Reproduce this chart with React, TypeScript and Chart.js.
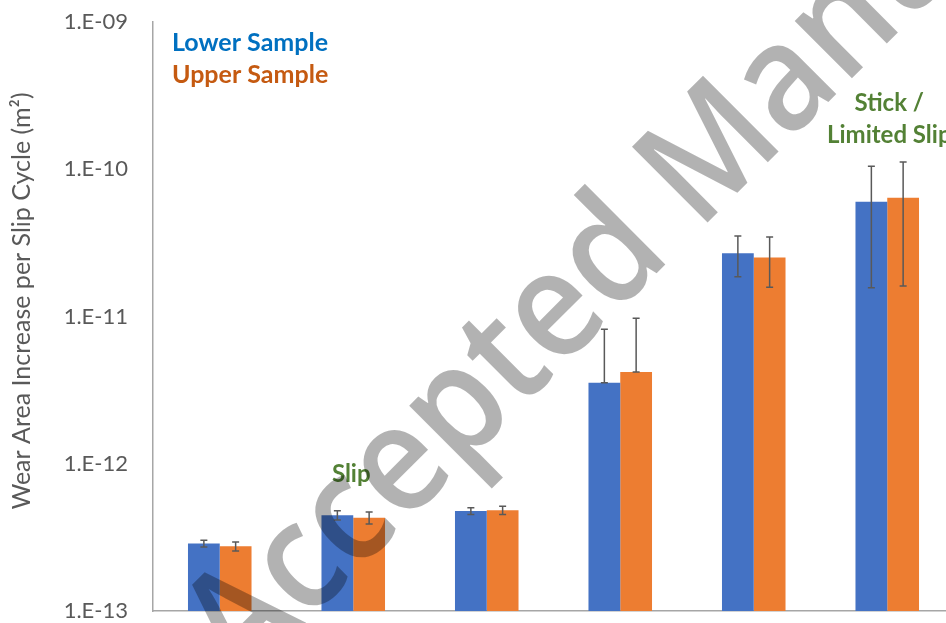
import React, { useEffect, useRef } from "react";
import { Chart, registerables } from "chart.js";

Chart.register(...registerables);

// Test conditions along the x axis (labels are not shown on this axis)
const categories = ["C1", "C2", "C3", "C4", "C5", "C6"];

// Mean wear area increase per slip cycle (m²)
const lowerSample = [2.87e-13, 4.47e-13, 4.78e-13, 3.55e-12, 2.69e-11, 6.02e-11];
const upperSample = [2.75e-13, 4.3e-13, 4.83e-13, 4.2e-12, 2.52e-11, 6.41e-11];

// Standard deviations used for the error bars (m²)
const lowerSd = [0.15e-13, 0.32e-13, 0.25e-13, 4.64e-12, 0.83e-11, 4.45e-11];
const upperSd = [0.19e-13, 0.4e-13, 0.31e-13, 5.52e-12, 0.94e-11, 4.8e-11];

// Decades shown on the logarithmic value axis
const yTickExponents = [-13, -12, -11, -10, -9];

const yTitle = "Wear Area Increase per Slip Cycle (m²)";
const slipText = ["Slip"];
const stickText = ["Stick /", "Limited Slip"];
const watermarkText = "Accepted Manuscript";

const BLUE = "#4472C4";
const ORANGE = "#ED7D31";
const AXIS_GREY = "#A6A6A6";
const TEXT_GREY = "#595959";
const GREEN = "#538135";
const legendColors = ["#0070C0", "#C55A11"];

const CANVAS_W = 960;
const CANVAS_H = 623;

const formatExp = (v: number) => {
  const e = Math.round(Math.log10(v));
  const abs = Math.abs(e);
  return "1.E" + (e < 0 ? "-" : "+") + (abs < 10 ? "0" + abs : String(abs));
};

const errorBarPlugin = {
  id: "errorBars",
  afterDatasetsDraw(chart: any) {
    const { ctx } = chart;
    const y = chart.scales.y;
    const sds = [lowerSd, upperSd];
    ctx.save();
    ctx.strokeStyle = TEXT_GREY;
    ctx.lineWidth = 1.5;
    chart.data.datasets.forEach((ds: any, di: number) => {
      const meta = chart.getDatasetMeta(di);
      meta.data.forEach((bar: any, i: number) => {
        const v = ds.data[i] as number;
        const sd = sds[di][i];
        const yTop = y.getPixelForValue(v + sd);
        const yLow = v - sd > 0 ? y.getPixelForValue(v - sd) : y.getPixelForValue(v);
        const x = bar.x;
        const cap = 3.5;
        ctx.beginPath();
        ctx.moveTo(x, yTop);
        ctx.lineTo(x, yLow);
        ctx.moveTo(x - cap, yTop);
        ctx.lineTo(x + cap, yTop);
        ctx.moveTo(x - cap, yLow);
        ctx.lineTo(x + cap, yLow);
        ctx.stroke();
      });
    });
    ctx.restore();
  },
};

const textPlugin = {
  id: "chartTexts",
  afterDraw(chart: any) {
    const { ctx } = chart;
    const x = chart.scales.x;

    ctx.save();

    // Axis title
    ctx.save();
    ctx.translate(22, 301);
    ctx.rotate(-Math.PI / 2);
    ctx.font = "25px Lato";
    ctx.fillStyle = TEXT_GREY;
    ctx.textAlign = "center";
    ctx.textBaseline = "middle";
    ctx.fillText(yTitle, 0, 0);
    ctx.restore();

    // Series names
    ctx.font = "bold 25px Lato";
    ctx.textAlign = "left";
    ctx.textBaseline = "middle";
    chart.data.datasets.forEach((ds: any, i: number) => {
      ctx.fillStyle = legendColors[i];
      ctx.fillText(ds.label, 172, 43 + i * 32);
    });

    // Regime annotations
    ctx.font = "bold 24px Lato";
    ctx.fillStyle = GREEN;
    ctx.textAlign = "center";
    const slipX = x.getPixelForValue(1) - 2;
    slipText.forEach((t, i) => ctx.fillText(t, slipX, 474 + i * 32));
    const stickX = x.getPixelForValue(5) + 2;
    stickText.forEach((t, i) => ctx.fillText(t, stickX, 103 + i * 32));

    // Watermark across the plot, drawn on its own layer and laid over translucently.
    // Placed so the middle of the second "c" sits at (350, 522) and the foot of
    // the "M" at (707, 223).
    const layer = document.createElement("canvas");
    layer.width = chart.width;
    layer.height = chart.height;
    const lc = layer.getContext("2d") as CanvasRenderingContext2D;
    const size = 150;
    lc.font = `600 ${size}px 'Open Sans'`;
    lc.textAlign = "left";
    lc.textBaseline = "alphabetic";
    const wAc = lc.measureText("Ac").width;
    const wc = lc.measureText("c").width;
    const wLead = lc.measureText("Accepted ").width;
    const mBearing = 0.088 * size;
    const lift = 0.27 * size;
    const c2 = { x: 350, y: 522 };
    const mFoot = { x: 707, y: 223 };
    let ang = Math.PI / 4;
    let sx = 1;
    for (let k = 0; k < 4; k++) {
      const bx = c2.x + lift * Math.sin(ang);
      const by = c2.y + lift * Math.cos(ang);
      const dx = mFoot.x - bx;
      const dy = by - mFoot.y;
      ang = Math.atan2(dy, dx);
      sx = Math.hypot(dx, dy) / (wLead - wAc - wc / 2 + mBearing);
    }
    const ux = Math.cos(ang);
    const uy = -Math.sin(ang);
    const upx = -Math.sin(ang);
    const upy = -Math.cos(ang);
    const along = (wAc + wc / 2) * sx;
    const ox = c2.x - along * ux - lift * upx;
    const oy = c2.y - along * uy - lift * upy;
    lc.translate(ox, oy);
    lc.rotate(-ang);
    lc.scale(sx, 1);
    lc.fillStyle = "#000";
    lc.fillText(watermarkText, 0, 0);
    ctx.globalAlpha = 0.3;
    ctx.drawImage(layer, 0, 0);

    ctx.restore();
  },
};

export default function App() {
  const canvasRef = useRef<HTMLCanvasElement | null>(null);

  useEffect(() => {
    const canvas = canvasRef.current;
    if (!canvas) return;
    const chart = new Chart(canvas, {
      type: "bar",
      data: {
        labels: categories,
        datasets: [
          {
            label: "Lower Sample",
            data: lowerSample,
            backgroundColor: BLUE,
            barPercentage: 1,
            categoryPercentage: 0.476,
          },
          {
            label: "Upper Sample",
            data: upperSample,
            backgroundColor: ORANGE,
            barPercentage: 1,
            categoryPercentage: 0.476,
          },
        ],
      },
      options: {
        animation: false,
        responsive: false,
        devicePixelRatio: 1,
        layout: { padding: { top: 22, right: CANVAS_W - 954, left: 0, bottom: 0 } },
        plugins: {
          legend: { display: false },
          tooltip: { enabled: false },
          title: { display: false },
        },
        scales: {
          x: {
            type: "category",
            grid: { display: false, drawTicks: false },
            border: { display: true, color: AXIS_GREY, width: 1.5 },
            ticks: { display: false },
            afterFit(scale: any) {
              scale.height = 12;
            },
          },
          y: {
            type: "logarithmic",
            min: 1e-13,
            max: 1e-9,
            grid: { display: false, drawTicks: false, tickLength: 0 },
            border: { display: true, color: AXIS_GREY, width: 1.5 },
            ticks: {
              padding: 25,
              color: TEXT_GREY,
              font: { family: "Lato", size: 22 },
              callback: (v: any) => formatExp(Number(v)),
            },
            afterBuildTicks(scale: any) {
              scale.ticks = yTickExponents.map((e) => ({ value: Math.pow(10, e) }));
            },
            afterFit(scale: any) {
              scale.width = 153;
              scale.paddingTop = 0;
              scale.paddingBottom = 0;
            },
          },
        },
      },
      plugins: [errorBarPlugin, textPlugin],
    });
    return () => chart.destroy();
  }, []);

  return (
    <div
      style={{
        position: "fixed",
        left: 0,
        top: 0,
        width: 946,
        height: 623,
        overflow: "hidden",
        background: "#ffffff",
      }}
    >
      <canvas
        ref={canvasRef}
        width={CANVAS_W}
        height={CANVAS_H}
        style={{ display: "block", width: CANVAS_W, height: CANVAS_H }}
      />
    </div>
  );
}
